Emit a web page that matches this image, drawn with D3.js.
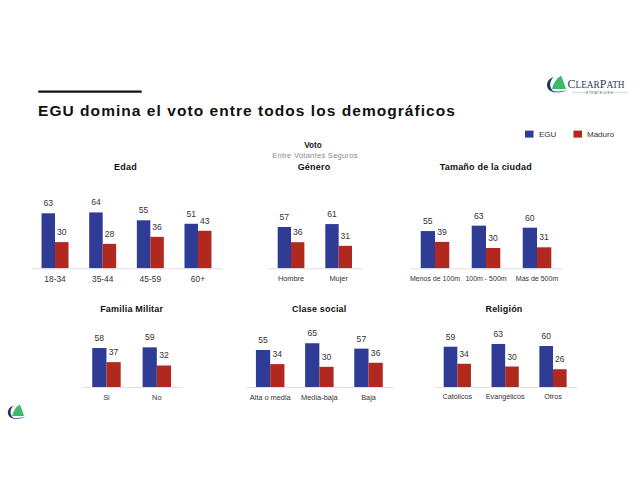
<!DOCTYPE html>
<html>
<head>
<meta charset="utf-8">
<script src="https://cdn.jsdelivr.net/npm/d3@7/dist/d3.min.js"></script>
<style>
  html, body { margin: 0; padding: 0; background: #fff; }
  svg { display: block; font-family: "Liberation Sans", Arial, sans-serif; }
</style>
</head>
<body>
<div id="chart"></div>
<script>
// ---------- DATA ----------
const seriesNames = ["EGU", "Maduro"];
const chartTitle = "EGU domina el voto entre todos los demográficos";
const headTitle = "Voto";
const headSubtitle = "Entre Votantes Seguros";
const panelTitles = ["Edad", "Género", "Tamaño de la ciudad", "Familia Militar", "Clase social", "Religión"];

const edadCats = ["18-34", "35-44", "45-59", "60+"];
const edadEGU = [63, 64, 55, 51];
const edadMaduro = [30, 28, 36, 43];

const generoCats = ["Hombre", "Mujer"];
const generoEGU = [57, 61];
const generoMaduro = [36, 31];

const ciudadCats = ["Menos de 100m", "100m - 500m", "Más de 500m"];
const ciudadEGU = [55, 63, 60];
const ciudadMaduro = [39, 30, 31];

const militarCats = ["Si", "No"];
const militarEGU = [58, 59];
const militarMaduro = [37, 32];

const claseCats = ["Alta o media", "Media-baja", "Baja"];
const claseEGU = [55, 65, 57];
const claseMaduro = [34, 30, 36];

const religionCats = ["Católicos", "Evangélicos", "Otros"];
const religionEGU = [59, 63, 60];
const religionMaduro = [34, 30, 26];

// ---------- LAYOUT (positions / styles only) ----------
const W = 640, H = 494;
const colors = { EGU: "#2e3c96", Maduro: "#b1281f" };

const layouts = [
  { cats: edadCats, a: edadEGU, b: edadMaduro, x0: 31.2, x1: 221.8, pi: 0.434, base: 268.3, ppu: 0.873, tx: 125.5, ty: 170.2, catFs: 8.4 },
  { cats: generoCats, a: generoEGU, b: generoMaduro, x0: 267.2, x1: 362.5, pi: 0.44, base: 268.3, ppu: 0.725, tx: 314, ty: 170.2, catFs: 7.4 },
  { cats: ciudadCats, a: ciudadEGU, b: ciudadMaduro, x0: 409.5, x1: 562.5, pi: 0.44, base: 268.3, ppu: 0.677, tx: 485.8, ty: 170.2, catFs: 7.0 },
  { cats: militarCats, a: militarEGU, b: militarMaduro, x0: 81.3, x1: 182, pi: 0.435, base: 387, ppu: 0.672, tx: 131.7, ty: 311.5, catFs: 7.4 },
  { cats: claseCats, a: claseEGU, b: claseMaduro, x0: 245.6, x1: 393.1, pi: 0.42, base: 387, ppu: 0.673, tx: 319.3, ty: 311.5, catFs: 7.4 },
  { cats: religionCats, a: religionEGU, b: religionMaduro, x0: 433.4, x1: 576.9, pi: 0.43, base: 387, ppu: 0.683, tx: 504, ty: 311.5, catFs: 7.2 }
];

const svg = d3.select("#chart").append("svg")
  .attr("width", W).attr("height", H).attr("viewBox", `0 0 ${W} ${H}`);

svg.append("rect").attr("width", W).attr("height", H).attr("fill", "#fff");

// top rule + title
svg.append("line").attr("x1", 38.3).attr("x2", 141.7).attr("y1", 91.7).attr("y2", 91.7)
  .attr("stroke", "#111").attr("stroke-width", 2.2);
svg.append("text").attr("x", 38).attr("y", 116)
  .attr("font-size", 15.5).attr("font-weight", "bold").attr("letter-spacing", 1.05)
  .attr("fill", "#111").text(chartTitle);

// header
svg.append("text").attr("x", 313).attr("y", 147.8).attr("text-anchor", "middle")
  .attr("font-size", 8.2).attr("font-weight", "bold").attr("fill", "#222").text(headTitle);
svg.append("text").attr("x", 315).attr("y", 157.8).attr("text-anchor", "middle")
  .attr("font-size", 7.6).attr("letter-spacing", 0.25).attr("fill", "#8a8a8a").text(headSubtitle);

// legend
const legendPos = [{ x: 525, tx: 539 }, { x: 573.5, tx: 587 }];
seriesNames.forEach((s, i) => {
  svg.append("rect").attr("x", legendPos[i].x).attr("y", 130.6).attr("width", 8.5).attr("height", 7)
    .attr("fill", colors[s]);
  svg.append("text").attr("x", legendPos[i].tx).attr("y", 136.9)
    .attr("font-size", 8).attr("fill", "#333").text(s);
});

// panels
layouts.forEach((L, pIdx) => {
  const g = svg.append("g");
  const data = L.cats.map((c, i) => ({ cat: c, EGU: L.a[i], Maduro: L.b[i] }));

  const x = d3.scaleBand().domain(L.cats).range([L.x0, L.x1])
    .paddingInner(L.pi).paddingOuter(L.pi / 2);
  const xi = d3.scaleBand().domain(seriesNames).range([0, x.bandwidth()]).padding(0);
  const y = d3.scaleLinear().domain([0, 100]).range([L.base, L.base - 100 * L.ppu]);

  // title
  g.append("text").attr("x", L.tx).attr("y", L.ty).attr("text-anchor", "middle")
    .attr("font-size", 9).attr("font-weight", "bold").attr("letter-spacing", 0.2)
    .attr("fill", "#111").text(panelTitles[pIdx]);

  // bars
  const groups = g.selectAll("g.grp").data(data).join("g")
    .attr("class", "grp").attr("transform", d => `translate(${x(d.cat)},0)`);
  groups.selectAll("rect").data(d => seriesNames.map(s => ({ s, v: d[s] }))).join("rect")
    .attr("x", d => xi(d.s)).attr("width", xi.bandwidth())
    .attr("y", d => y(d.v)).attr("height", d => y(0) - y(d.v))
    .attr("fill", d => colors[d.s]);
  groups.selectAll("text.val").data(d => seriesNames.map(s => ({ s, v: d[s] }))).join("text")
    .attr("class", "val")
    .attr("x", d => xi(d.s) + xi.bandwidth() / 2)
    .attr("y", d => y(d.v) - 7)
    .attr("text-anchor", "middle").attr("font-size", 8.6).attr("fill", "#333")
    .text(d => d.v);

  // axis
  const ax = g.append("g").attr("transform", `translate(0,${L.base})`)
    .call(d3.axisBottom(x).tickSize(0).tickSizeOuter(0).tickPadding(7.3));
  ax.select(".domain").attr("stroke", "#e2e2e2").attr("stroke-width", 1);
  ax.selectAll("text").attr("font-size", L.catFs).attr("fill", "#333")
    .attr("font-family", "'Liberation Sans', Arial, sans-serif");
});

// ---------- logos ----------
function drawIcon(gx) {
  gx.append("path").attr("d", "M6,13.5 Q8,4.5 15,0 Q18,6.5 20,13.5 Z").attr("fill", "#3dba6a");
  gx.append("path").attr("d", "M7.5,1.5 C-1.5,4.5 -1.5,16 10,17.2 C3,14.5 2.5,6.5 7.5,1.5 Z").attr("fill", "#1e3660");
  gx.append("path").attr("d", "M3,14.5 Q12,19.5 22,14.2 Q12,17.5 3,14.5 Z").attr("fill", "#2b6cb3");
}
const logoTop = svg.append("g").attr("transform", "translate(546,75.5)");
drawIcon(logoTop);
const brand = svg.append("text").attr("x", 567.5).attr("y", 88.3)
  .attr("font-family", "'Liberation Serif', 'DejaVu Serif', serif").attr("fill", "#2c3e5c");
brand.append("tspan").attr("font-size", 12).text("C");
brand.append("tspan").attr("font-size", 9.3).text("LEAR");
brand.append("tspan").attr("font-size", 12).text("P");
brand.append("tspan").attr("font-size", 9.3).text("ATH");
svg.append("line").attr("x1", 572).attr("x2", 588).attr("y1", 92.3).attr("y2", 92.3).attr("stroke", "#8a93a6").attr("stroke-width", 0.4);
svg.append("line").attr("x1", 611).attr("x2", 628).attr("y1", 92.3).attr("y2", 92.3).attr("stroke", "#8a93a6").attr("stroke-width", 0.4);
svg.append("text").attr("x", 599.5).attr("y", 93.6).attr("text-anchor", "middle")
  .attr("font-size", 3.6).attr("letter-spacing", 0.5).attr("fill", "#5a6478").text("STRATEGIES");

const logoBottom = svg.append("g").attr("transform", "translate(7,404.5) scale(0.85)");
drawIcon(logoBottom);
</script>
</body>
</html>
